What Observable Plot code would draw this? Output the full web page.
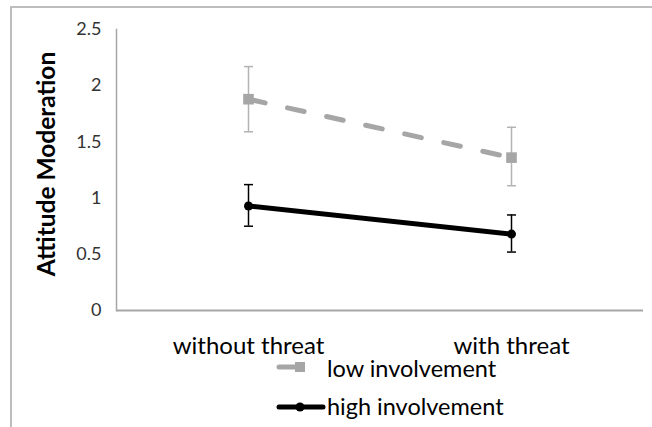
<!DOCTYPE html>
<html><head><meta charset="utf-8">
<script src="https://cdn.jsdelivr.net/npm/d3@7"></script>
<script src="https://cdn.jsdelivr.net/npm/@observablehq/plot@0.6"></script>
<style>
body{margin:0;background:#fff;font-family:Lato,sans-serif;}
#wrap{position:relative;width:652px;height:427px;overflow:hidden;}
#frame{position:absolute;left:10px;top:6px;width:680px;height:460px;border-left:2px solid #bdbdbd;border-top:2px solid #bdbdbd;}
#chart{position:absolute;left:0;top:0;}
#ylabel{position:absolute;left:45px;top:164px;transform:translate(-50%,-50%) rotate(-90deg);font-weight:bold;font-size:24.5px;white-space:nowrap;color:#000;}
#legend{position:absolute;left:0;top:0;}
</style>
</head><body>
<div id="wrap">
  <div id="frame"></div>
  <div id="chart"></div>
  <div id="ylabel"></div>
  <svg id="legend" width="652" height="427"></svg>
</div>
<script>
const conditions = ["without threat", "with threat"];
const groups = ["low involvement", "high involvement"];
const yLabel = "Attitude Moderation";
const yTicks = [0, 0.5, 1, 1.5, 2, 2.5];
const lowMean = [1.88, 1.36];
const lowLower = [1.59, 1.11];
const lowUpper = [2.17, 1.63];
const highMean = [0.93, 0.68];
const highLower = [0.75, 0.52];
const highUpper = [1.12, 0.85];

const grayC = "#a6a6a6";
const lowData = conditions.map((c, i) => ({cond: c, mean: lowMean[i], lo: lowLower[i], hi: lowUpper[i]}));
const highData = conditions.map((c, i) => ({cond: c, mean: highMean[i], lo: highLower[i], hi: highUpper[i]}));
const caps = d => d.flatMap(r => [{cond: r.cond, v: r.lo}, {cond: r.cond, v: r.hi}]);

const capSymbol = {draw(ctx, size) { const w = Math.sqrt(size / Math.PI); ctx.moveTo(-w, 0); ctx.lineTo(w, 0); }};

const chart = Plot.plot({
  width: 652, height: 360,
  marginLeft: 116, marginRight: 9, marginTop: 29, marginBottom: 50,
  style: {fontFamily: "Lato, sans-serif", background: "transparent", color: "#000"},
  x: {type: "point", domain: conditions, padding: 0.5},
  y: {domain: [0, 2.5]},
  marks: [
    Plot.axisY({ticks: yTicks, tickSize: 0, tickPadding: 15, fontSize: 18, label: null, tickFormat: d => String(d), fill: "#333"}),
    Plot.axisX({tickSize: 0, tickPadding: 26, fontSize: 24, label: null, fill: "#000"}),
    Plot.frame({anchor: "left", stroke: grayC, strokeWidth: 1.5}),
    Plot.ruleY([0], {stroke: grayC, strokeWidth: 2}),
    Plot.ruleX(lowData, {x: "cond", y1: "lo", y2: "hi", stroke: "#b3b3b3", strokeWidth: 1.5}),
    Plot.dot(caps(lowData), {x: "cond", y: "v", symbol: capSymbol, r: 4.5, stroke: "#b3b3b3", strokeWidth: 1.5}),
    Plot.ruleX(highData, {x: "cond", y1: "lo", y2: "hi", stroke: "#000", strokeWidth: 1.5}),
    Plot.dot(caps(highData), {x: "cond", y: "v", symbol: capSymbol, r: 4.5, stroke: "#000", strokeWidth: 1.5}),
    Plot.line(lowData, {x: "cond", y: "mean", stroke: grayC, strokeWidth: 5, strokeDasharray: "17,23", strokeLinecap: "round"}),
    Plot.dot(lowData, {x: "cond", y: "mean", symbol: "square", r: 6, fill: grayC, stroke: "none"}),
    Plot.line(highData, {x: "cond", y: "mean", stroke: "#000", strokeWidth: 5}),
    Plot.dot(highData, {x: "cond", y: "mean", r: 4.5, fill: "#000", stroke: "none"})
  ]
});
document.getElementById("chart").appendChild(chart);
document.getElementById("ylabel").textContent = yLabel;

// legend below the plot
const lg = d3.select("#legend");
const legendSwatchY = [367, 407];
const legendTextY = [377, 415];
// low involvement swatch: short dashed segment with square marker
lg.append("line").attr("x1", 279).attr("x2", 296).attr("y1", legendSwatchY[0]).attr("y2", legendSwatchY[0])
  .attr("stroke", grayC).attr("stroke-width", 5).attr("stroke-linecap", "round");
lg.append("rect").attr("x", 295).attr("y", legendSwatchY[0] - 5).attr("width", 10).attr("height", 10).attr("fill", grayC);
// high involvement swatch: solid line with dot marker
lg.append("line").attr("x1", 279).attr("x2", 323).attr("y1", legendSwatchY[1]).attr("y2", legendSwatchY[1])
  .attr("stroke", "#000").attr("stroke-width", 5).attr("stroke-linecap", "round");
lg.append("circle").attr("cx", 300).attr("cy", legendSwatchY[1]).attr("r", 4.5).attr("fill", "#000");
groups.forEach((g, i) => {
  lg.append("text").attr("x", 327).attr("y", legendTextY[i])
    .attr("font-family", "Lato, sans-serif").attr("font-size", 23.5).attr("fill", "#000").text(g);
});
</script>
</body></html>
